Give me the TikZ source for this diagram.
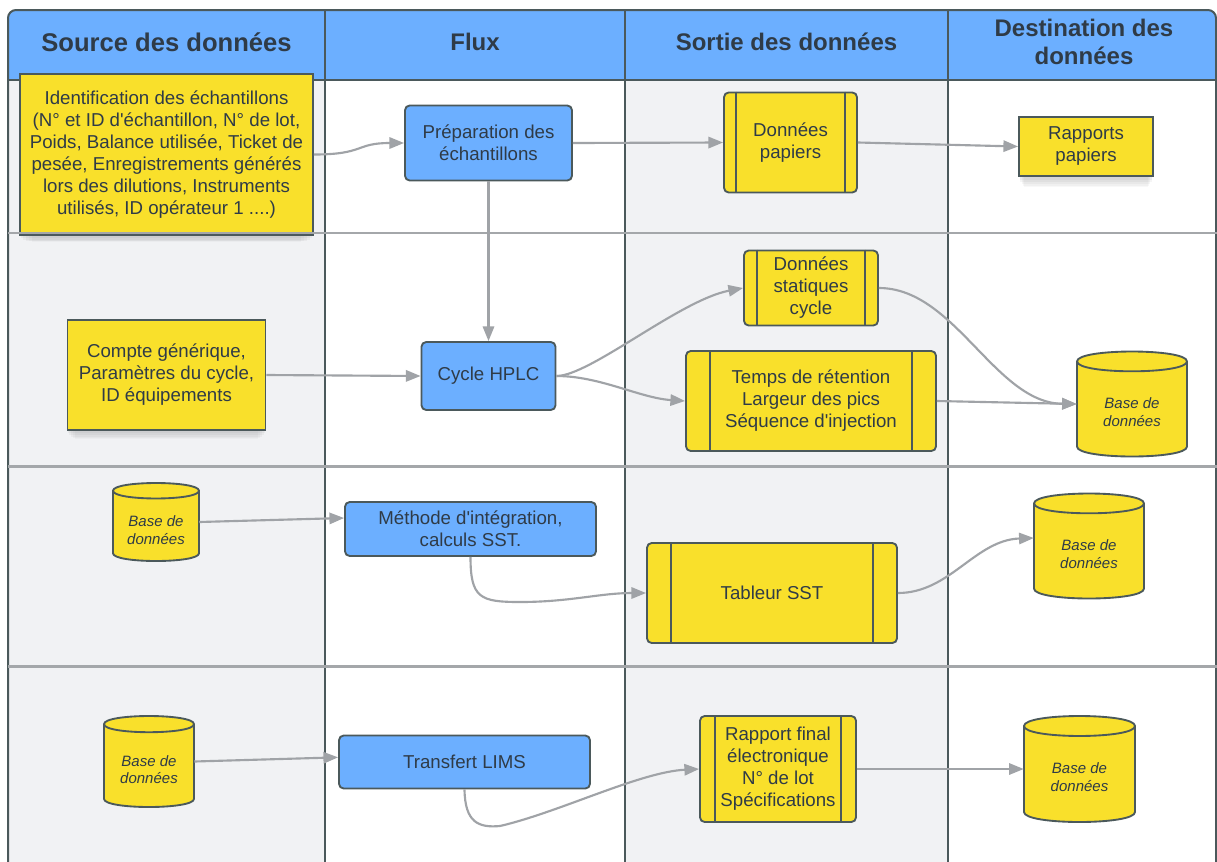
\documentclass[tikz,border=0pt]{standalone}
\usepackage{fontspec}
\setmainfont{Liberation Sans}[Ligatures=TeXOff]
\usetikzlibrary{arrows.meta,shadows}
\definecolor{cHdr}{HTML}{6CAFFF}
\definecolor{cYel}{HTML}{F9E02B}
\definecolor{cLane}{HTML}{F1F2F4}
\definecolor{cBord}{HTML}{4B595B}
\definecolor{cRow}{HTML}{A4A7AA}
\definecolor{cConn}{HTML}{A0A3A7}
\definecolor{cTxt}{HTML}{2F3B47}
\newcommand\bodyf{\fontsize{14pt}{16.5pt}\selectfont}
\newcommand\hdrf{\fontsize{18pt}{20.8pt}\selectfont\bfseries}
\newcommand\hdrbig{\fontsize{19.2pt}{20.8pt}\selectfont\bfseries}
\newcommand\dbf{\fontsize{11.25pt}{13.3pt}\selectfont\itshape}
\newcommand\dbcyl[5]{%
  \pgfmathsetmacro\ry{#4*0.09}%
  \pgfmathsetmacro\rk{\ry*4/3}%
  \pgfmathsetmacro\xl{#2-#4/2}%
  \pgfmathsetmacro\xr{#2+#4/2}%
  \pgfmathsetmacro\yt{#3-#5/2+\ry}%
  \pgfmathsetmacro\yb{#3+#5/2-\ry}%
  \pgfmathsetmacro\ytc{\yt-\rk}%
  \pgfmathsetmacro\ytd{\yt+\rk}%
  \pgfmathsetmacro\ybd{\yb+\rk}%
  \draw[dbline] (\xl,\yt) -- (\xl,\yb) .. controls (\xl,\ybd) and (\xr,\ybd) .. (\xr,\yb) -- (\xr,\yt) .. controls (\xr,\ytc) and (\xl,\ytc) .. (\xl,\yt) -- cycle;
  \draw[dbline, fill=none] (\xl,\yt) .. controls (\xl,\ytd) and (\xr,\ytd) .. (\xr,\yt);
  \node[dbhold, minimum width=#4*0.75pt, minimum height=#5*0.75pt,
        label={[name=#1t, dbtext]center:Base de\\données}] (#1) at (#2,#3) {};
}
\newcommand\innerlines[2]{%
  \draw[cBord, line width=1.4pt] ([xshift=#2]#1.north west) -- ([xshift=#2]#1.south west);
  \draw[cBord, line width=1.4pt] ([xshift=-#2]#1.north east) -- ([xshift=-#2]#1.south east);
}
\begin{document}
\begin{tikzpicture}[x=0.75pt,y=-0.75pt,
  anybox/.style={draw=cBord, line width=1.4pt, text=cTxt, font=\bodyf, align=center, inner sep=0pt},
  yelbox/.style={anybox, fill=cYel},
  blubox/.style={anybox, fill=cHdr, rounded corners=3.5pt},
  procbox/.style={anybox, fill=cYel, rounded corners=3.5pt},
  shd/.style={drop shadow={shadow xshift=0pt, shadow yshift=-11pt, opacity=.05, shadow scale=.92},
              drop shadow={shadow xshift=0pt, shadow yshift=-9pt, opacity=.06, shadow scale=.94},
              drop shadow={shadow xshift=0pt, shadow yshift=-7pt, opacity=.07, shadow scale=.96},
              drop shadow={shadow xshift=0pt, shadow yshift=-5pt, opacity=.08, shadow scale=.98},
              drop shadow={shadow xshift=0pt, shadow yshift=-3pt, opacity=.08, shadow scale=.99}},
  hdrtext/.style={text=cTxt, font=\hdrf, align=center, inner sep=0pt},
  dbtext/.style={text=cTxt, font=\dbf, align=center, inner sep=0pt, yshift=-6pt},
  dbhold/.style={draw=none, inner sep=0pt},
  dbline/.style={draw=cBord, line width=1.4pt, fill=cYel},
  connector/.style={draw=cConn, line width=1.6pt, -{Triangle[length=11pt,width=8.5pt]}},
  rowl/.style={draw=cRow, line width=1.8pt},
  coldiv/.style={draw=cBord, line width=1.4pt}]
\useasboundingbox (0,0) rectangle (1217,861);
\clip (0,0) rectangle (1217,861);
% background and lanes
\fill[cHdr, rounded corners=6pt] (8,10) rectangle (1216,120);
\fill[white] (8,80) rectangle (1216,900);
\fill[cLane] (8,80) rectangle (325,900);
\fill[cLane] (625,80) rectangle (948,900);
\draw[coldiv] (325,10) -- (325,900);
\draw[coldiv] (625,10) -- (625,900);
\draw[coldiv] (948,10) -- (948,900);
\draw[coldiv] (8,80) -- (1216,80);
\draw[cBord, line width=1.5pt, rounded corners=6pt] (8,10) rectangle (1216,900);
% headers
\node[hdrtext, font=\hdrbig] (h1) at (166.5,42) {Source des données};
\node[hdrtext] (h2) at (475,42) {Flux};
\node[hdrtext] (h3) at (786.5,42) {Sortie des données};
\node[hdrtext] (h4) at (1084,42) {Destination des\\données};
% row 1
\node[yelbox, shd, minimum width=219.75pt, minimum height=120.75pt] (id) at (166.5,154.5)
  {Identification des échantillons\\(N° et ID d'échantillon, N° de lot,\\Poids, Balance utilisée, Ticket de\\pesée, Enregistrements générés\\lors des dilutions, Instruments\\utilisés, ID opérateur 1 ....)};
\node[blubox, minimum width=125.25pt, minimum height=56.25pt] (prep) at (488.5,143) {Préparation des\\échantillons};
\node[procbox, minimum width=99.75pt, minimum height=75pt] (dp) at (790.5,142.5) {Données\\papiers};
\innerlines{dp}{10pt}
\node[yelbox, shd, minimum width=100.5pt, minimum height=44.25pt] (rp) at (1086,146.5) {Rapports\\papiers};
% row 2
\node[yelbox, shd, minimum width=148.5pt, minimum height=82.5pt] (cp) at (166.5,375) {Compte générique,\\Paramètres du cycle,\\ID équipements};
\node[blubox, minimum width=100.5pt, minimum height=51pt] (cyc) at (488.5,376) {Cycle HPLC};
\node[procbox, minimum width=100.5pt, minimum height=56.25pt] (st) at (811,288) {Données\\statiques\\cycle};
\innerlines{st}{10.25pt}
\node[procbox, minimum width=187.5pt, minimum height=75pt] (tp) at (811,401) {Temps de rétention\\Largeur des pics\\Séquence d'injection};
\innerlines{tp}{18.6pt}
\dbcyl{db1}{1132}{404}{110}{105}
% row 3
\dbcyl{db3l}{156}{522}{86}{78}
\node[blubox, minimum width=188.25pt, minimum height=40.5pt] (meth) at (470.5,529) {Méthode d'intégration,\\calculs SST.};
\node[procbox, minimum width=187.5pt, minimum height=75pt] (tab) at (772,593) {Tableur SST};
\innerlines{tab}{18.75pt}
\dbcyl{db3r}{1089}{546}{110}{105}
% row 4
\dbcyl{db4l}{149}{761.5}{90}{91}
\node[blubox, minimum width=188.25pt, minimum height=39.75pt] (tr) at (464.5,762) {Transfert LIMS};
\node[procbox, minimum width=117pt, minimum height=79.5pt] (rf) at (778,769) {Rapport final\\électronique\\N° de lot\\Spécifications};
\innerlines{rf}{12pt}
\dbcyl{db4r}{1079.5}{769}{111}{106}
% row lines
\draw[rowl] (8,233) -- (1217,233);
\draw[rowl] (8,466.5) -- (1217,466.5);
\draw[rowl] (8,666.5) -- (1217,666.5);
% connectors
\draw[connector] (id.east) .. controls (365,154.5) and (355,143) .. (prep.west);
\draw[connector] (prep.east) -- (dp.west);
\draw[connector] (dp.east) -- (rp.west);
\draw[connector] (prep.south) -- (cyc.north);
\draw[connector] (cp.east) -- (cyc.west);
\draw[connector] (cyc.east) .. controls (590,376) and (680,300) .. (st.west);
\draw[connector] (cyc.east) .. controls (600,376) and (640,398) .. (tp.west);
\draw[connector] (st.east) .. controls (955,288) and (995,403) .. (db1.west);
\draw[connector] (tp.east) -- (db1.west);
\draw[connector] (db3l.east) -- ([yshift=8.25pt]meth.west);
\draw[connector] (meth.south) .. controls (470.5,598) and (480,602) .. (520,602) .. controls (570,602) and (600,593) .. (tab.west);
\draw[connector] (tab.east) .. controls (950,593) and (975,540) .. ([yshift=6pt]db3r.west);
\draw[connector] (db4l.east) -- ([yshift=3.5pt]tr.west);
\draw[connector] (tr.south) .. controls (465,822) and (478,828) .. (500,826) .. controls (560,812) and (640,772) .. (rf.west);
\draw[connector] (rf.east) -- (db4r.west);
\end{tikzpicture}
\end{document}
